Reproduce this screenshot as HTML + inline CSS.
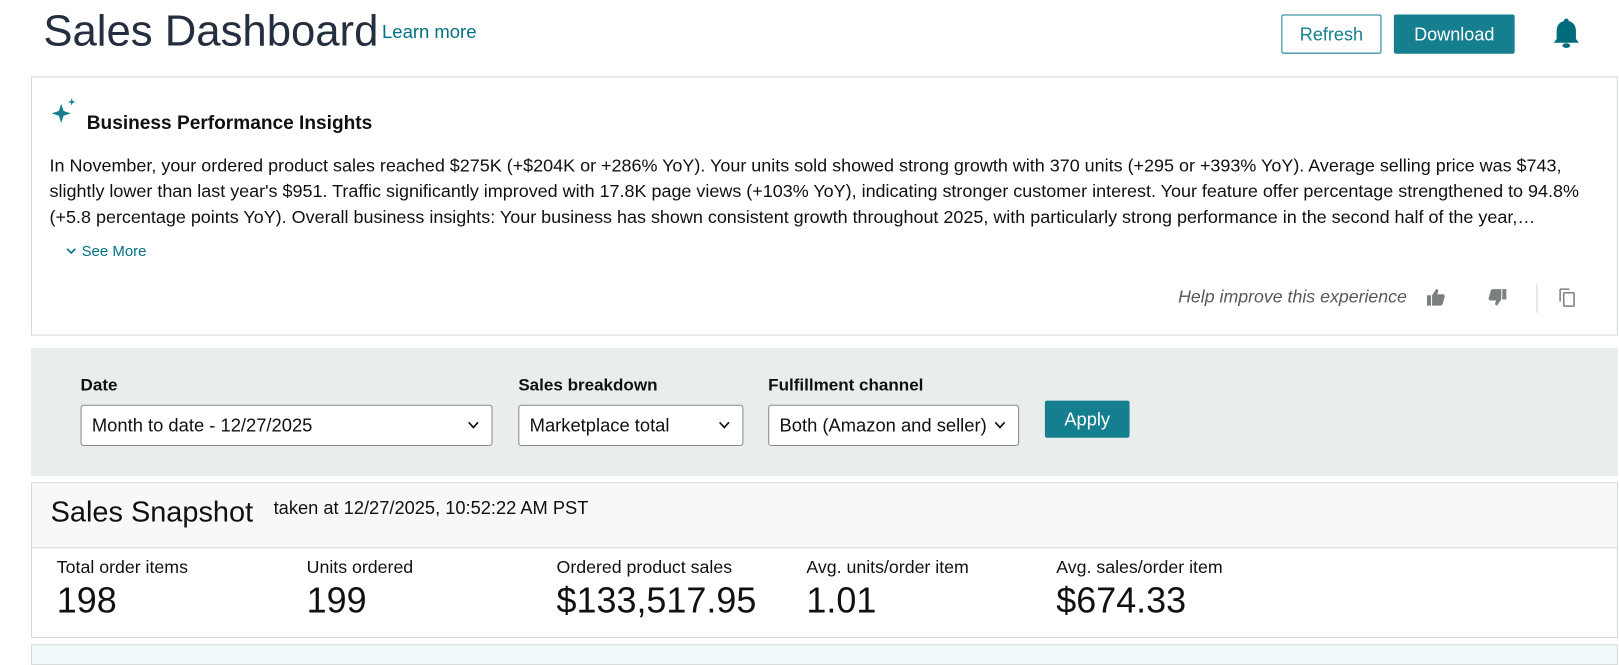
<!DOCTYPE html>
<html><head><meta charset="utf-8"><style>
*{box-sizing:border-box;margin:0;padding:0}
body{width:1619px;height:648px;background:#fff;font-family:"Liberation Sans",sans-serif;color:#0f1111;position:relative;overflow:hidden}
#w{position:absolute;left:0;top:0;width:1568px;height:628px;transform:scale(1.0325);transform-origin:0 0}
.a{position:absolute;white-space:nowrap}
.lbl{font-weight:bold;font-size:16.5px;line-height:20px;color:#0f1111}
.sel{position:absolute;height:40px;border:1px solid #888c8c;border-radius:3px;background:#fff;font-size:17.8px;line-height:38px;padding-left:10px}
.sel svg{position:absolute;right:12px;top:15px}
.ml{font-size:17.2px;line-height:20px;color:#0f1111}
.mv{font-size:34.8px;line-height:40px;color:#0f1111}
</style></head><body><div id="w">
<div class="a" style="left:42px;top:4px;font-size:42.3px;color:#232f3e;line-height:52px">Sales Dashboard</div>
<div class="a" style="left:370px;top:20px;font-size:17.9px;line-height:22px;color:#007185">Learn more</div>
<div class="a" style="left:1241px;top:14px;width:97px;height:38px;border:1px solid #157f8f;border-radius:2px;color:#157f8f;font-size:17.5px;text-align:center;line-height:36px">Refresh</div>
<div class="a" style="left:1350px;top:14px;width:117px;height:38px;background:#157f8f;border-radius:2px;color:#fff;font-size:17.5px;text-align:center;line-height:38px">Download</div>
<svg class="a" style="left:1503px;top:16px" width="28" height="33" viewBox="0 0 30 35"><path d="M15 2c-1.5 0-2.5 1-2.5 2.5C7 6 5 10 5 15v8l-3 4h26l-3-4v-8c0-5-2-9-7.5-10.5C17.5 3 16.5 2 15 2z" fill="#006c7c"/><ellipse cx="15" cy="30" rx="4" ry="2.5" fill="#006c7c"/></svg>

<div class="a" style="left:30px;top:74px;width:1537px;height:251px;border:1px solid #d5d9d9"></div>
<svg class="a" style="left:50px;top:95px" width="26" height="24" viewBox="0 0 28 26"><path d="M10 6 L12.5 13.5 L20 16 L12.5 18.5 L10 26 L7.5 18.5 L0 16 L7.5 13.5Z" fill="#157f8f"/><path d="M21 0 L22 3 L25 4 L22 5 L21 8 L20 5 L17 4 L20 3Z" fill="#157f8f"/></svg>
<div class="a" style="left:84px;top:108px;font-size:18.5px;line-height:22px;font-weight:bold;color:#0f1111">Business Performance Insights</div>
<div class="a" style="left:48px;top:147.5px;font-size:17.4px;line-height:25px;color:#0f1111">In November, your ordered product sales reached $275K (+$204K or +286% YoY). Your units sold showed strong growth with 370 units (+295 or +393% YoY). Average selling price was $743,<br>slightly lower than last year's $951. Traffic significantly improved with 17.8K page views (+103% YoY), indicating stronger customer interest. Your feature offer percentage strengthened to 94.8%<br>(+5.8 percentage points YoY). Overall business insights: Your business has shown consistent growth throughout 2025, with particularly strong performance in the second half of the year,…</div>
<svg class="a" style="left:64px;top:240px" width="10" height="7" viewBox="0 0 10 7"><path d="M1 1 L5 5 L9 1" stroke="#007185" stroke-width="1.6" fill="none"/></svg>
<div class="a" style="left:79px;top:235px;font-size:14.5px;line-height:18px;color:#007185">See More</div>
<div class="a" style="left:1141px;top:276px;font-size:17.2px;line-height:22px;font-style:italic;color:#565959">Help improve this experience</div>
<svg class="a" style="left:1382px;top:279px" width="18" height="18" viewBox="0 0 18 18"><rect x="0" y="7" width="4" height="10" fill="#7b7f80"/><path d="M5 7 L9 1 Q11 1 11 3 L10 6 L16 6 Q18 7 17 9 L15 16 Q14 17 13 17 L5 17Z" fill="#7b7f80"/></svg>
<svg class="a" style="left:1441px;top:279px" width="18" height="18" viewBox="0 0 18 18" transform="rotate(180)"><rect x="0" y="7" width="4" height="10" fill="#7b7f80"/><path d="M5 7 L9 1 Q11 1 11 3 L10 6 L16 6 Q18 7 17 9 L15 16 Q14 17 13 17 L5 17Z" fill="#7b7f80"/></svg>
<div class="a" style="left:1488px;top:275px;width:1px;height:28px;background:#d5d9d9"></div>
<svg class="a" style="left:1510px;top:279px" width="17" height="19" viewBox="0 0 17 19"><path d="M1 1 H10 M1 1 V13" stroke="#7b7f80" stroke-width="1.5" fill="none"/><rect x="4.5" y="4.5" width="10" height="13" rx="1" stroke="#7b7f80" stroke-width="1.5" fill="none"/></svg>

<div class="a" style="left:30px;top:337px;width:1537px;height:124px;background:#eaeded"></div>
<div class="a lbl" style="left:78px;top:363px">Date</div>
<div class="a lbl" style="left:502px;top:363px">Sales breakdown</div>
<div class="a lbl" style="left:744px;top:363px">Fulfillment channel</div>
<div class="sel" style="left:78px;top:392px;width:399px">Month to date - 12/27/2025<svg width="11" height="8" viewBox="0 0 11 8"><path d="M1 1 L5.5 6 L10 1" stroke="#0f1111" stroke-width="1.6" fill="none"/></svg></div>
<div class="sel" style="left:502px;top:392px;width:218px">Marketplace total<svg width="11" height="8" viewBox="0 0 11 8"><path d="M1 1 L5.5 6 L10 1" stroke="#0f1111" stroke-width="1.6" fill="none"/></svg></div>
<div class="sel" style="left:744px;top:392px;width:243px">Both (Amazon and seller)<svg width="11" height="8" viewBox="0 0 11 8"><path d="M1 1 L5.5 6 L10 1" stroke="#0f1111" stroke-width="1.6" fill="none"/></svg></div>
<div class="a" style="left:1012px;top:388px;width:82px;height:36px;background:#157f8f;border-radius:2px;color:#fff;font-size:17.7px;text-align:center;line-height:36px">Apply</div>

<div class="a" style="left:30px;top:467px;width:1537px;height:151px;border:1px solid #d5d9d9;background:#fff"></div>
<div class="a" style="left:31px;top:468px;width:1535px;height:63px;background:#f7f8f8;border-bottom:1px solid #d5d9d9"></div>
<div class="a" style="left:49px;top:479px;font-size:28px;line-height:34px;color:#0f1111">Sales Snapshot</div>
<div class="a" style="left:265px;top:481px;font-size:17.7px;line-height:22px;color:#0f1111">taken at 12/27/2025, 10:52:22 AM PST</div>
<div class="a ml" style="left:55px;top:539px">Total order items</div>
<div class="a mv" style="left:55px;top:562px">198</div>
<div class="a ml" style="left:297px;top:539px">Units ordered</div>
<div class="a mv" style="left:297px;top:562px">199</div>
<div class="a ml" style="left:539px;top:539px">Ordered product sales</div>
<div class="a mv" style="left:539px;top:562px">$133,517.95</div>
<div class="a ml" style="left:781px;top:539px">Avg. units/order item</div>
<div class="a mv" style="left:781px;top:562px">1.01</div>
<div class="a ml" style="left:1023px;top:539px">Avg. sales/order item</div>
<div class="a mv" style="left:1023px;top:562px">$674.33</div>
<div class="a" style="left:30px;top:624px;width:1537px;height:20px;border:1px solid #d5d9d9;background:#f3fafb"></div>
</div></body></html>
